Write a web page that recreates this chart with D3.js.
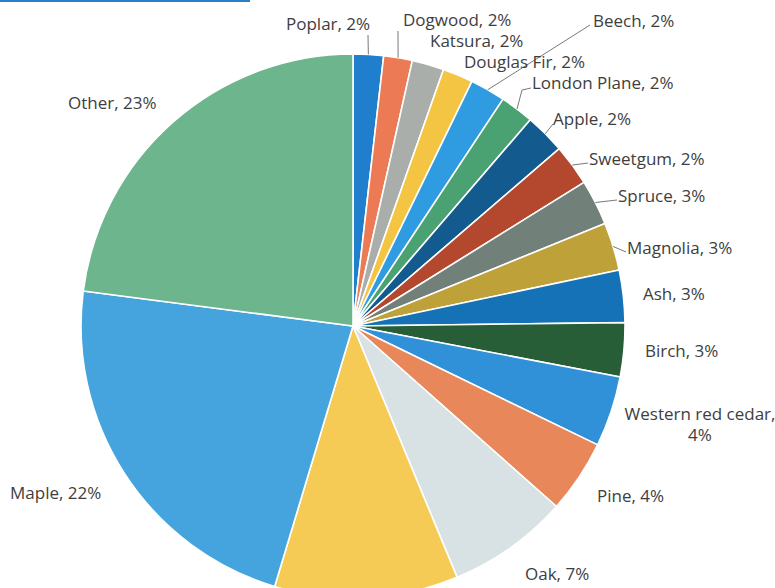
<!DOCTYPE html>
<html>
<head>
<meta charset="utf-8">
<script src="https://cdn.jsdelivr.net/npm/d3@7"></script>
<style>
  body { margin: 0; background: #fff; }
  svg { display: block; }
  .lbl { font-family: "Open Sans", sans-serif; font-size: 17px; fill: #3e3e3e; }
</style>
</head>
<body>
<svg id="chart"></svg>
<script>
// tree species share, clockwise from 12 o'clock
const species = ["Poplar", "Dogwood", "Katsura", "Douglas Fir", "Beech", "London Plane", "Apple",
  "Sweetgum", "Spruce", "Magnolia", "Ash", "Birch", "Western red cedar", "Pine", "Oak",
  "(unlabelled)", "Maple", "Other"];
// slice sizes (percent)
const shares = [1.8, 1.7, 1.9, 1.8, 2.1, 2.0, 2.4, 2.45, 2.7, 2.85, 3.1, 3.2, 4.2, 4.35, 7.2, 10.9, 22.4, 22.95];
// printed percentages
const printed = ["2%", "2%", "2%", "2%", "2%", "2%", "2%", "2%", "3%", "3%", "3%", "3%", "4%", "4%", "7%", null, "22%", "23%"];
const colors = ["#1f7fcc", "#ec7a55", "#a9aeab", "#f4c542", "#2f9be0", "#4aa272", "#135a8f",
  "#b3482f", "#72807a", "#bfa13a", "#1572b6", "#275e37", "#3090d8", "#e8875a", "#d8e1e4",
  "#f5cb55", "#45a4de", "#6db58c"];

const width = 775, height = 588;
const cx = 353, cy = 326, radius = 272;

// label layout: text anchor point (baseline), text-anchor, leader end (or null)
const labelLayout = [
  {x: 286, y: 30, a: "start", lead: [[368, 35]]},
  {x: 403, y: 26, a: "start", lead: [[398, 31]]},
  {x: 430, y: 47, a: "start", lead: null},
  {x: 464, y: 68, a: "start", lead: null},
  {x: 593, y: 27, a: "start", lead: [[590, 25]]},
  {x: 532, y: 89, a: "start", lead: [[522, 90], [531, 88]]},
  {x: 553, y: 125, a: "start", lead: [[553, 124]]},
  {x: 589, y: 165, a: "start", lead: [[588, 163]]},
  {x: 618, y: 202, a: "start", lead: [[617, 200]]},
  {x: 627, y: 254, a: "start", lead: [[626, 252]]},
  {x: 643, y: 300, a: "start", lead: null},
  {x: 645, y: 357, a: "start", lead: null},
  {x: 700, y: 420, a: "middle", lead: null, split: true},
  {x: 597, y: 502, a: "start", lead: null},
  {x: 525, y: 580, a: "start", lead: null},
  null,
  {x: 10, y: 499, a: "start", lead: null},
  {x: 68, y: 109, a: "start", lead: null}
];

const data = species.map((s, i) => ({name: s, value: shares[i], pct: printed[i], color: colors[i], layout: labelLayout[i]}));

const svg = d3.select("#chart")
  .attr("width", width)
  .attr("height", height);

// thin header rule at the top-left
svg.append("rect")
  .attr("x", 0).attr("y", 0)
  .attr("width", 250).attr("height", 2)
  .attr("fill", "#2a80c8");

const pie = d3.pie()
  .sort(null)
  .value(d => d.value);

const arcs = pie(data);

const arc = d3.arc()
  .innerRadius(0)
  .outerRadius(radius);

const g = svg.append("g")
  .attr("transform", `translate(${cx}, ${cy})`);

g.selectAll("path")
  .data(arcs)
  .join("path")
  .attr("d", arc)
  .attr("fill", d => d.data.color)
  .attr("stroke", "#fff")
  .attr("stroke-width", 1.6)
  .attr("stroke-linejoin", "round");

// point on the rim at the slice's middle angle, in page coords
const rim = d => {
  const a = (d.startAngle + d.endAngle) / 2;
  return [cx + radius * Math.sin(a), cy - radius * Math.cos(a)];
};

const withLead = arcs.filter(d => d.data.layout && d.data.layout.lead);
svg.append("g")
  .selectAll("polyline")
  .data(withLead)
  .join("polyline")
  .attr("points", d => [rim(d)].concat(d.data.layout.lead).map(p => p.join(",")).join(" "))
  .attr("fill", "none")
  .attr("stroke", "#6a6a6a")
  .attr("stroke-width", 0.9);

const labelled = arcs.filter(d => d.data.layout);
const texts = svg.append("g")
  .selectAll("text")
  .data(labelled)
  .join("text")
  .attr("class", "lbl")
  .attr("x", d => d.data.layout.x)
  .attr("y", d => d.data.layout.y)
  .attr("text-anchor", d => d.data.layout.a);

texts.filter(d => !d.data.layout.split)
  .text(d => `${d.data.name}, ${d.data.pct}`);

texts.filter(d => d.data.layout.split)
  .each(function(d) {
    const t = d3.select(this);
    t.append("tspan").attr("x", d.data.layout.x).text(`${d.data.name},`);
    t.append("tspan").attr("x", d.data.layout.x).attr("dy", 21).text(d.data.pct);
  });
</script>
</body>
</html>
